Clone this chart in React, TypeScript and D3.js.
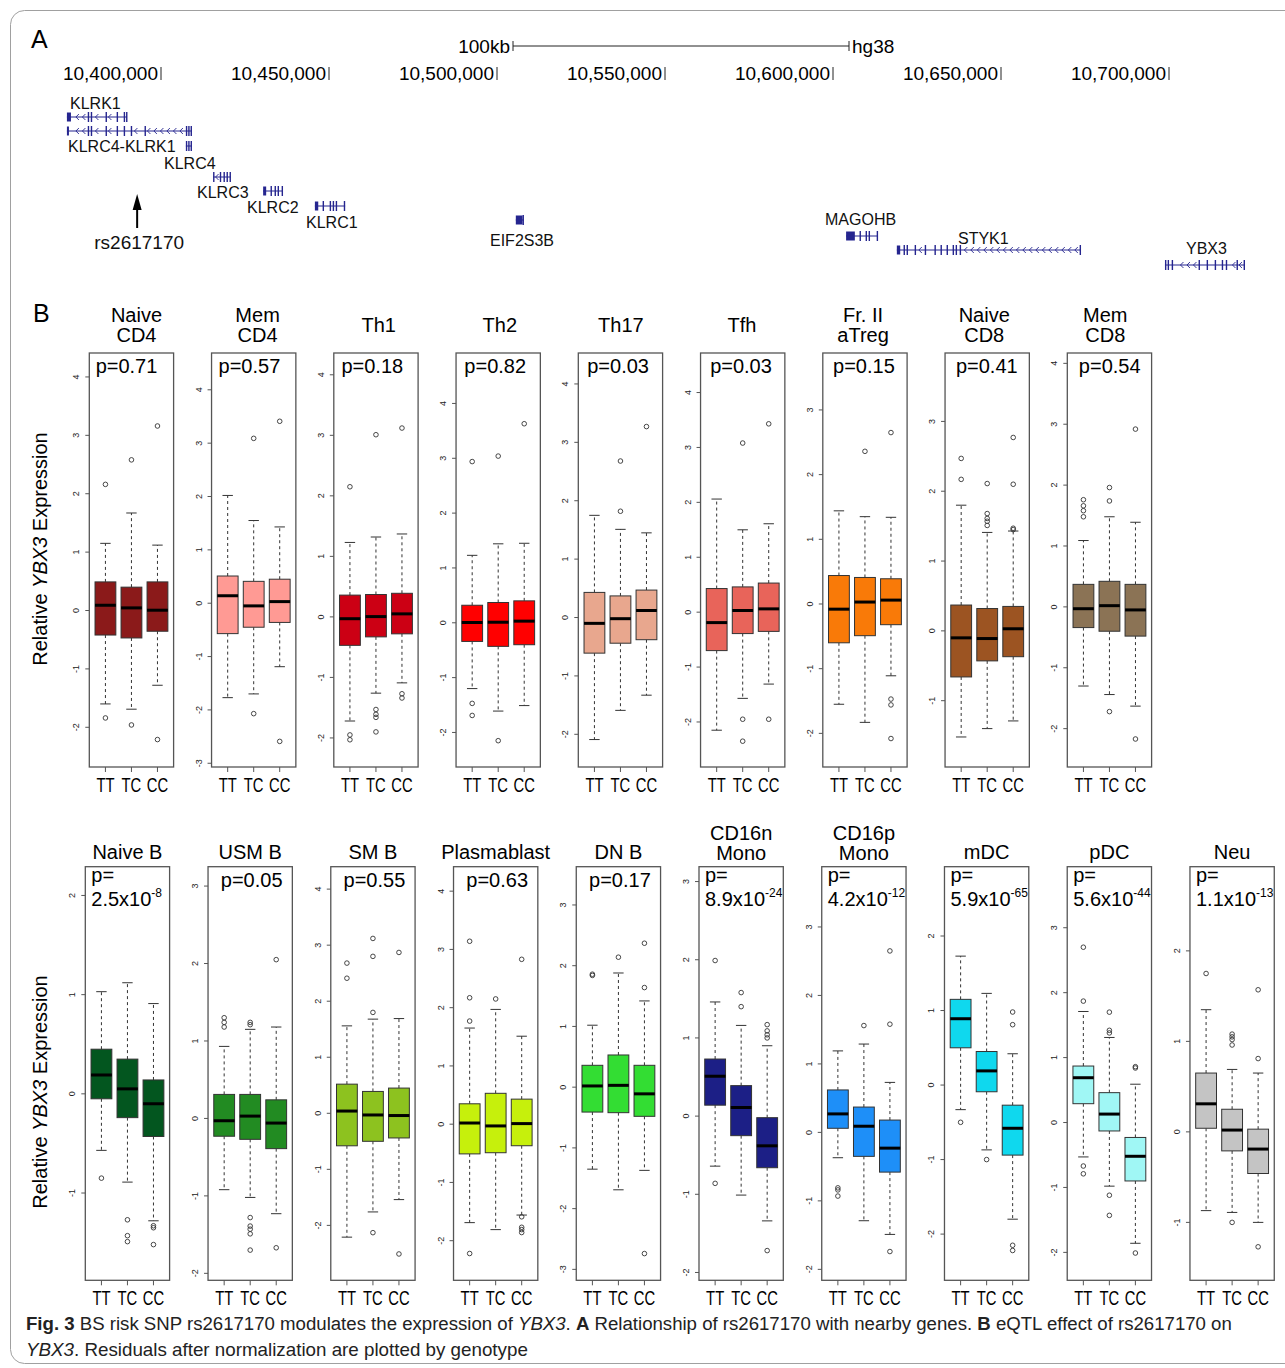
import React, { useLayoutEffect, useRef, useState } from "react";
import * as d3 from "d3";

const FONT = "'Liberation Sans', Arial, Helvetica, sans-serif";

// ---------- panel A : genome browser track (positions in kb, hg38) ----------
const axisTicksKb = [10400, 10450, 10500, 10550, 10600, 10650, 10700];
const scaleBarKb = 100;
const snpName = "rs2617170";
const snpKb = 10392.9;

const geneNames = ["KLRK1", "KLRC4-KLRK1", "KLRC4", "KLRC3", "KLRC2", "KLRC1", "EIF2S3B", "MAGOHB", "STYK1", "YBX3"];
const geneExons: number[][][] = [
  [[10372.0, 10373.2], [10378.2, 10378.6], [10379.1, 10379.5], [10383.5, 10383.9], [10386.8, 10387.2], [10388.9, 10389.3], [10389.6, 10389.9]],
  [[10372.0, 10372.6], [10378.2, 10378.6], [10379.1, 10379.5], [10383.5, 10383.9], [10386.8, 10387.2], [10388.9, 10389.3], [10391.0, 10391.4], [10395.1, 10395.5], [10407.4, 10407.8], [10408.1, 10408.5], [10408.8, 10409.2]],
  [[10407.4, 10407.8], [10408.1, 10408.5], [10408.8, 10409.2]],
  [[10415.5, 10415.9], [10417.5, 10417.9], [10418.6, 10419.0], [10419.5, 10419.9], [10420.4, 10420.8]],
  [[10430.4, 10431.3], [10432.6, 10433.0], [10433.8, 10434.2], [10434.7, 10435.1], [10435.9, 10436.3]],
  [[10445.8, 10446.8], [10448.1, 10448.5], [10450.2, 10450.6], [10451.1, 10451.5], [10452.0, 10452.4], [10454.4, 10454.8]],
  [[10505.6, 10507.6], [10507.6, 10508.0]],
  [[10603.9, 10606.5], [10607.9, 10608.3], [10609.7, 10610.1], [10610.6, 10611.0], [10613.0, 10613.4]],
  [[10619.0, 10620.0], [10621.0, 10621.4], [10621.9, 10622.3], [10624.3, 10624.7], [10627.3, 10627.7], [10630.2, 10630.6], [10632.0, 10632.4], [10633.8, 10634.2], [10635.6, 10636.0], [10636.5, 10636.9], [10637.7, 10638.1], [10673.4, 10673.8]],
  [[10698.8, 10699.2], [10699.6, 10700.0], [10700.8, 10701.2], [10708.8, 10709.2], [10711.2, 10711.6], [10713.6, 10714.0], [10715.7, 10716.1], [10716.9, 10717.3], [10720.1, 10720.5], [10722.2, 10722.6]],
];
// track layout: row centre and label anchor
const geneRowY = [117, 131, 146, 177, 191, 206, 220, 236, 250, 265];
const geneLabelXY = [[70, 109], [68, 152], [164, 169], [197, 198], [247, 213], [306, 228], [490, 246], [825, 225], [958, 244], [1186, 254]];

// ---------- panel B : eQTL boxplots ----------
const cellTypes = [
  "Naive\nCD4", "Mem\nCD4", "Th1", "Th2", "Th17", "Tfh", "Fr. II\naTreg", "Naive\nCD8", "Mem\nCD8",
  "Naive B", "USM B", "SM B", "Plasmablast", "DN B", "CD16n\nMono", "CD16p\nMono", "mDC", "pDC", "Neu",
];
const genotypes = ["TT", "TC", "CC"];
const boxFill = [
  "#8b1a1a", "#ff9a94", "#cc0014", "#ff0000", "#e8a78e", "#e8645a", "#f97a08", "#9c5422", "#8b7355",
  "#03561f", "#228b22", "#8dc21f", "#c6f00c", "#33dd33", "#1c1f86", "#1e8ff8", "#0fd8ee", "#a0f7f5", "#c4c4c4",
];
const pMantissa = [
  "0.71", "0.57", "0.18", "0.82", "0.03", "0.03", "0.15", "0.41", "0.54",
  "2.5x10", "0.05", "0.55", "0.63", "0.17", "8.9x10", "4.2x10", "5.9x10", "5.6x10", "1.1x10",
];
const pExponent = [
  "", "", "", "", "", "", "", "", "",
  "-8", "", "", "", "", "-24", "-12", "-65", "-44", "-13",
];
const yRange = [
  [-2.68, 4.41], [-3.07, 4.69], [-2.48, 4.36], [-2.63, 4.92], [-2.56, 4.53], [-2.82, 4.72], [-2.52, 3.88], [-1.95, 3.98], [-2.63, 4.17],
  [-1.88, 2.29], [-2.09, 3.25], [-2.98, 4.4], [-2.68, 4.42], [-3.18, 3.63], [-2.1, 3.19], [-2.16, 3.88], [-2.62, 2.93], [-2.43, 3.94], [-1.64, 2.93],
];
const lowerWhisker = [
  [-1.6, -1.69, -1.28], [-1.77, -1.7, -1.19], [-1.72, -1.26, -1.09], [-1.2, -1.61, -1.51], [-2.09, -1.59, -1.33], [-2.15, -1.57, -1.31], [-1.55, -1.83, -1.11], [-1.52, -1.4, -1.29], [-1.3, -1.44, -1.63],
  [-0.57, -0.89, -1.28], [-0.92, -1.02, -1.23], [-2.21, -1.76, -1.54], [-1.69, -1.81, -1.56], [-1.35, -1.69, -1.37], [-0.64, -1.01, -1.34], [-0.37, -1.29, -1.49], [-0.33, -0.87, -1.8], [-0.53, -0.98, -1.86], [-0.87, -0.89, -1.0],
];
const lowerHinge = [
  [-0.42, -0.47, -0.355], [-0.57, -0.45, -0.36], [-0.47, -0.33, -0.28], [-0.34, -0.43, -0.4], [-0.61, -0.44, -0.38], [-0.7, -0.39, -0.35], [-0.6, -0.49, -0.32], [-0.66, -0.43, -0.37], [-0.34, -0.4, -0.48],
  [-0.05, -0.24, -0.43], [-0.23, -0.27, -0.39], [-0.58, -0.5, -0.44], [-0.51, -0.49, -0.37], [-0.41, -0.42, -0.48], [0.14, -0.25, -0.66], [0.06, -0.35, -0.58], [0.5, -0.09, -0.94], [0.29, -0.13, -0.9], [0.04, -0.21, -0.46],
];
const medians = [
  [0.09, 0.045, 0.005], [0.14, -0.05, 0.03], [-0.03, 0.005, 0.05], [0.005, 0.01, 0.03], [-0.1, -0.02, 0.12], [-0.19, 0.03, 0.06], [-0.08, 0.03, 0.06], [-0.1, -0.11, 0.03], [-0.03, 0.02, -0.05],
  [0.19, 0.05, -0.1], [-0.03, 0.03, -0.06], [0.04, -0.03, -0.04], [0.02, -0.03, 0.01], [0.02, 0.03, -0.11], [0.51, 0.11, -0.38], [0.27, 0.09, -0.23], [0.89, 0.19, -0.58], [0.69, 0.13, -0.52], [0.31, 0.02, -0.19],
];
const upperHinge = [
  [0.49, 0.4, 0.49], [0.51, 0.41, 0.45], [0.36, 0.37, 0.39], [0.32, 0.37, 0.4], [0.43, 0.37, 0.47], [0.43, 0.46, 0.53], [0.44, 0.41, 0.39], [0.37, 0.32, 0.35], [0.37, 0.42, 0.37],
  [0.45, 0.35, 0.14], [0.31, 0.31, 0.24], [0.52, 0.39, 0.45], [0.35, 0.53, 0.43], [0.36, 0.53, 0.36], [0.73, 0.39, -0.02], [0.62, 0.37, 0.18], [1.15, 0.45, -0.27], [0.87, 0.46, -0.23], [0.65, 0.25, 0.03],
];
const upperWhisker = [
  [1.15, 1.67, 1.12], [2.02, 1.55, 1.43], [1.23, 1.32, 1.37], [1.23, 1.44, 1.45], [1.75, 1.51, 1.45], [2.06, 1.5, 1.61], [1.44, 1.35, 1.34], [1.8, 1.41, 1.43], [1.09, 1.48, 1.39],
  [1.03, 1.12, 0.91], [0.93, 1.15, 1.18], [1.56, 1.68, 1.69], [1.65, 1.97, 1.51], [1.02, 1.88, 1.42], [1.46, 1.16, 0.9], [1.19, 1.29, 0.73], [1.73, 1.23, 0.42], [1.71, 1.31, 0.59], [1.35, 0.69, 0.65],
];
const outliers = [
  [[2.16, -1.84], [2.58, -1.96], [3.16, -2.21]],
  [[], [3.09, -2.07], [3.41, -2.59]],
  [[2.15, -1.95, -2.03], [3.01, -1.53, -1.61, -1.66, -1.9], [3.12, -1.27, -1.34]],
  [[2.94, -1.47, -1.69], [3.04, -2.15], [3.63]],
  [[], [2.68, 1.82], [3.27]],
  [[], [3.08, -1.95, -2.35], [3.43, -1.95]],
  [[], [2.36], [2.65, -1.47, -1.56, -2.08]],
  [[2.47, 2.17], [2.11, 1.68, 1.61, 1.57, 1.51], [2.77, 2.1, 1.47, 1.45]],
  [[1.76, 1.66, 1.58, 1.48], [1.96, 1.74, -1.72], [2.92, -2.17]],
  [[-0.85], [-1.27, -1.43, -1.49], [-1.33, -1.35, -1.52]],
  [[1.3, 1.24, 1.18], [1.24, 1.21, -1.28, -1.39, -1.43, -1.49, -1.7], [2.05, -1.67]],
  [[2.68, 2.41], [3.12, 2.8, 1.8, -2.13], [2.87, -2.51]],
  [[3.14, 2.17, 1.77, -2.22], [2.15], [2.83, -1.59, -1.77, -1.81, -1.86]],
  [[1.86, 1.84], [2.14], [2.37, 1.64, -2.74]],
  [[1.99, -0.86], [1.58, 1.4], [1.17, 1.09, 1.04, 1.0, -1.72]],
  [[-0.81, -0.84, -0.93], [1.56], [2.65, 1.58, -1.74]],
  [[-0.5], [-1.0], [0.98, 0.81, -2.15, -2.22]],
  [[2.7, 1.87, -0.67, -0.79], [1.7, 1.42, 1.38, -1.12, -1.43], [0.86, 0.84, -2.01]],
  [[1.75], [1.08, 1.05, 1.02, 0.96, -1.0], [1.57, 0.81, -1.27]],
];

const NAVY = "#25258f";
const INK = "#333";

function GenomeTrack() {
  const gx = d3.scaleLinear().domain([axisTicksKb[0], axisTicksKb[axisTicksKb.length - 1]]).range([161, 1169]);
  const fmt = d3.format(",");
  const sb0 = 513;
  const sb1 = sb0 + gx(axisTicksKb[0] + scaleBarKb) - gx(axisTicksKb[0]);
  const sx = gx(snpKb);

  return (
    <g>
      <text x={31} y={48} fontSize={25}>A</text>
      <text x={sb0 - 3} y={53} fontSize={19} textAnchor="end">{scaleBarKb + "kb"}</text>
      <line x1={sb0} x2={sb1} y1={46} y2={46} stroke="#222" />
      <line x1={sb0} x2={sb0} y1={41} y2={51} stroke="#222" />
      <line x1={sb1} x2={sb1} y1={41} y2={51} stroke="#222" />
      <text x={sb1 + 3} y={53} fontSize={19}>hg38</text>

      {axisTicksKb.map((t) => (
        <g key={t}>
          <text x={gx(t) - 3} y={80} fontSize={19} textAnchor="end">{fmt(t * 1000)}</text>
          <line x1={gx(t)} x2={gx(t)} y1={67} y2={80} stroke="#222" />
        </g>
      ))}

      {geneNames.map((name, gi) => {
        const ex = geneExons[gi];
        const x0 = gx(ex[0][0]);
        const x1 = gx(ex[ex.length - 1][1]);
        const cy = geneRowY[gi];
        const chev: number[] = [];
        for (let p = x0 + 4; p < x1 - 3; p += 6.5) {
          const inside = ex.some((e) => p > gx(e[0]) - 2.5 && p < gx(e[1]) + 2.5);
          if (!inside) chev.push(p);
        }
        return (
          <g key={name}>
            <line x1={x0} x2={x1} y1={cy} y2={cy} stroke={NAVY} strokeWidth={1} />
            {chev.map((p, k) => (
              <path key={k} d={`M${p + 1.5},${cy - 3}L${p - 1.5},${cy}L${p + 1.5},${cy + 3}`} fill="none" stroke={NAVY} strokeWidth={0.9} />
            ))}
            {ex.map((e, k) => {
              const w = Math.max(1.4, gx(e[1]) - gx(e[0]));
              const h = k === 0 && w > 2 ? 9 : 10;
              return <rect key={k} x={gx(e[0])} y={cy - h / 2} width={w} height={h} fill={NAVY} />;
            })}
            <text x={geneLabelXY[gi][0]} y={geneLabelXY[gi][1]} fontSize={16} fill="#111">{name}</text>
          </g>
        );
      })}

      <line x1={sx} x2={sx} y1={228} y2={206} stroke="#000" strokeWidth={2} />
      <path d={`M${sx},${194}L${sx - 4.5},${210}L${sx + 4.5},${210}Z`} fill="#000" />
      <text x={sx + 2} y={249} fontSize={19} textAnchor="middle" fill="#111">{snpName}</text>
    </g>
  );
}

function BoxPanel({ i }: { i: number }) {
  const top = i < 9;
  const col = top ? i : i - 9;
  const w = 84.3;
  const left = top ? 89.3 + col * 122.25 : 85.3 + col * 122.74;
  const y0 = top ? 353 : 866.7;
  const y1 = top ? 767 : 1280.3;
  const x = d3.scaleLinear().domain([0.38, 3.62]).range([left, left + w]);
  const y = d3.scaleLinear().domain(yRange[i]).range([y1, y0]);
  const ticks = d3.range(Math.ceil(yRange[i][0]), Math.floor(yRange[i][1]) + 1);
  const half = x(0.4) - x(0);
  const staple = x(0.2) - x(0);

  const lines = cellTypes[i].split("\n");
  const titleX = top ? 136.5 + col * 121.1 : left + w / 2;
  const titleY = top ? (lines.length === 2 ? [322, 342] : [332]) : lines.length === 2 ? [840, 860] : [859];

  return (
    <g>
      {lines.map((l, k) => (
        <text key={k} x={titleX} y={titleY[k]} fontSize={20} textAnchor="middle">{l}</text>
      ))}

      {genotypes.map((g, k) => {
        const xc = x(k + 1);
        return (
          <g key={g}>
            <line x1={xc} x2={xc} y1={y(upperHinge[i][k])} y2={y(upperWhisker[i][k])} stroke={INK} strokeDasharray="3,3" />
            <line x1={xc} x2={xc} y1={y(lowerHinge[i][k])} y2={y(lowerWhisker[i][k])} stroke={INK} strokeDasharray="3,3" />
            <line x1={xc - staple} x2={xc + staple} y1={y(upperWhisker[i][k])} y2={y(upperWhisker[i][k])} stroke={INK} />
            <line x1={xc - staple} x2={xc + staple} y1={y(lowerWhisker[i][k])} y2={y(lowerWhisker[i][k])} stroke={INK} />
            <rect x={xc - half} y={y(upperHinge[i][k])} width={half * 2} height={y(lowerHinge[i][k]) - y(upperHinge[i][k])} fill={boxFill[i]} stroke={INK} strokeWidth={1} />
            <line x1={xc - half} x2={xc + half} y1={y(medians[i][k])} y2={y(medians[i][k])} stroke="#000" strokeWidth={3} />
            {outliers[i][k].map((v, n) => (
              <circle key={n} cx={xc} cy={y(v)} r={2.3} fill="none" stroke={INK} strokeWidth={0.9} />
            ))}
            <line x1={xc} x2={xc} y1={y1} y2={y1 + 5} stroke="#555" />
            <text transform={`translate(${xc},${y1 + 25}) scale(0.74,1)`} fontSize={20} textAnchor="middle">{g}</text>
          </g>
        );
      })}

      <rect x={left} y={y0} width={w} height={y1 - y0} fill="none" stroke="#555" strokeWidth={1.3} />
      {ticks.map((t) => (
        <g key={t}>
          <line x1={left - 4} x2={left} y1={y(t)} y2={y(t)} stroke="#555" />
          <text transform={`translate(${left - 10},${y(t)}) rotate(-90)`} fontSize={9} textAnchor="middle" fill="#222">{String(t)}</text>
        </g>
      ))}

      {pExponent[i] === "" ? (
        <text x={top ? 126.5 + col * 122.9 : left + w / 2 + 1.5} y={top ? 373 : 886.5} fontSize={20} textAnchor="middle">{"p=" + pMantissa[i]}</text>
      ) : (
        <g>
          <text x={left + 6} y={882} fontSize={20}>p=</text>
          <text x={left + 6} y={905.5} fontSize={20}>
            {pMantissa[i]}
            <tspan fontSize={12} dy={-9}>{pExponent[i]}</tspan>
          </text>
        </g>
      )}
    </g>
  );
}

function YLabel({ cy }: { cy: number }) {
  return (
    <text transform={`translate(47,${cy}) rotate(-90)`} fontSize={20} textAnchor="middle">
      {"Relative "}
      <tspan fontStyle="italic">YBX3</tspan>
      {" Expression"}
    </text>
  );
}

// caption lines are drawn in a condensed face: measure and squeeze horizontally
function Caption() {
  const r1 = useRef<SVGTextElement>(null);
  const r2 = useRef<SVGTextElement>(null);
  const [sc, setSc] = useState([0.9, 0.9]);
  useLayoutEffect(() => {
    const a = r1.current ? r1.current.getComputedTextLength() : 0;
    const b = r2.current ? r2.current.getComputedTextLength() : 0;
    if (a > 0 && b > 0) setSc([1206 / a, 502 / b]);
  }, []);
  return (
    <g fill="#222" fontSize={19}>
      <text ref={r1} transform={`translate(26,1330) scale(${sc[0]},1)`}>
        <tspan fontWeight="bold">Fig. 3</tspan>
        {"  BS risk SNP rs2617170 modulates the expression of "}
        <tspan fontStyle="italic">YBX3</tspan>
        {". "}
        <tspan fontWeight="bold">A</tspan>
        {" Relationship of rs2617170 with nearby genes. "}
        <tspan fontWeight="bold">B</tspan>
        {" eQTL effect of rs2617170 on"}
      </text>
      <text ref={r2} transform={`translate(26,1356) scale(${sc[1]},1)`}>
        <tspan fontStyle="italic">YBX3</tspan>
        {". Residuals after normalization are plotted by genotype"}
      </text>
    </g>
  );
}

export default function App() {
  return (
    <svg width={1285} height={1368} fontFamily={FONT} style={{ position: "absolute", left: 0, top: 0, background: "#fff" }}>
      <rect x={10.5} y={10.5} width={1300} height={1353} rx={14} fill="none" stroke="#a0a0a0" />
      <GenomeTrack />
      <text x={33} y={322} fontSize={25}>B</text>
      {cellTypes.map((_, i) => (
        <BoxPanel key={i} i={i} />
      ))}
      <YLabel cy={549} />
      <YLabel cy={1092} />
      <Caption />
    </svg>
  );
}
